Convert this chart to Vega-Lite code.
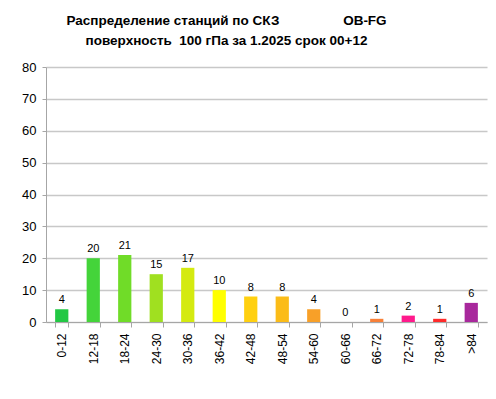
{
  "$schema": "https://vega.github.io/schema/vega-lite/v6.json",
  "width": 441,
  "height": 255,
  "autosize": {"type": "none"},
  "padding": {"left": 46, "top": 67, "right": 9, "bottom": 77},
  "background": "white",
  "title": {
    "text": ["Распределение станций по СКЗ \u00a0\u00a0\u00a0\u00a0\u00a0\u00a0\u00a0\u00a0\u00a0\u00a0\u00a0\u00a0\u00a0\u00a0\u00a0\u00a0OB-FG", "поверхность \u00a0100 гПа за 1.2025 срок 00+12"],
    "anchor": "middle",
    "dx": -40,
    "offset": 14,
    "font": "Liberation Sans",
    "fontSize": 13.5,
    "fontWeight": "bold",
    "color": "#000000",
    "lineHeight": 20
  },
  "data": {
    "values": [
      {"range": "0-12", "count": 4, "color": "#22c844"},
      {"range": "12-18", "count": 20, "color": "#44d43a"},
      {"range": "18-24", "count": 21, "color": "#70dc28"},
      {"range": "24-30", "count": 15, "color": "#a0e020"},
      {"range": "30-36", "count": 17, "color": "#d4ea10"},
      {"range": "36-42", "count": 10, "color": "#ffff00"},
      {"range": "42-48", "count": 8, "color": "#ffd010"},
      {"range": "48-54", "count": 8, "color": "#fbbc18"},
      {"range": "54-60", "count": 4, "color": "#f8a028"},
      {"range": "60-66", "count": 0, "color": "#f89030"},
      {"range": "66-72", "count": 1, "color": "#f88038"},
      {"range": "72-78", "count": 2, "color": "#ff1a8c"},
      {"range": "78-84", "count": 1, "color": "#ff2a2a"},
      {"range": ">84", "count": 6, "color": "#a8289c"}
    ]
  },
  "encoding": {
    "x": {
      "field": "range",
      "type": "nominal",
      "sort": null,
      "title": null,
      "scale": {"paddingInner": 0.58, "paddingOuter": 0.29},
      "axis": {
        "labelAngle": -90,
        "labelFont": "Liberation Sans",
        "labelFontSize": 12,
        "labelColor": "#000000",
        "labelPadding": 6,
        "tickBand": "extent",
        "tickSize": 5,
        "tickColor": "#a6a6a6",
        "domainColor": "#a6a6a6",
        "grid": false
      }
    },
    "y": {
      "field": "count",
      "type": "quantitative",
      "title": null,
      "scale": {"domain": [0, 80], "nice": false},
      "axis": {
        "values": [0, 10, 20, 30, 40, 50, 60, 70, 80],
        "labelFont": "Liberation Sans",
        "labelFontSize": 13,
        "labelColor": "#000000",
        "labelPadding": 6,
        "tickSize": 4,
        "tickColor": "#a6a6a6",
        "domainColor": "#a6a6a6",
        "gridColor": "#c8c8c8",
        "gridWidth": 1.5
      }
    }
  },
  "layer": [
    {
      "mark": {"type": "bar"},
      "encoding": {
        "color": {"field": "color", "type": "nominal", "scale": null}
      }
    },
    {
      "mark": {"type": "text", "dy": -9, "font": "Liberation Sans", "fontSize": 11, "color": "#000000"},
      "encoding": {"text": {"field": "count", "type": "quantitative"}}
    }
  ],
  "config": {"view": {"stroke": null}}
}
